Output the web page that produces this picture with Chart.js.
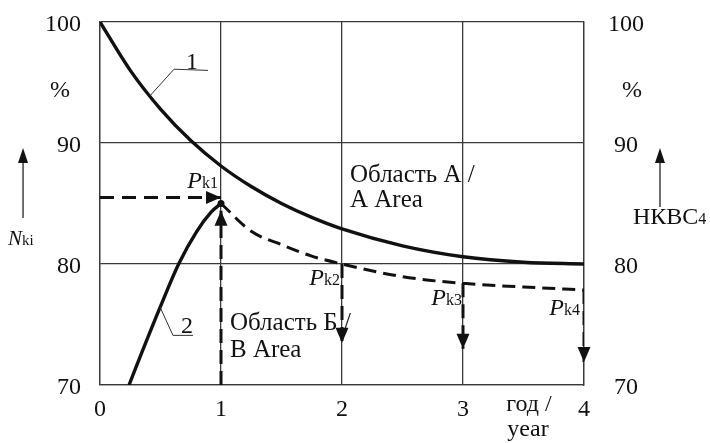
<!DOCTYPE html>
<html>
<head>
<meta charset="utf-8">
<script src="https://cdn.jsdelivr.net/npm/chart.js@4/dist/chart.umd.min.js"></script>
<style>
  html, body { margin: 0; padding: 0; background: #fff; }
  #wrap { width: 710px; height: 443px; }
</style>
</head>
<body>
<div id="wrap"><canvas id="chart" width="710" height="443"></canvas></div>
<script>
// axis ranges
const yearTicks = [0, 1, 2, 3, 4];
const percentTicks = [70, 80, 90, 100];

// curve 1 - upper boundary
const curve1Years  = [0, 0.25, 0.5, 0.75, 1, 1.25, 1.5, 1.75, 2, 2.5, 3, 3.5, 4];
const curve1Values = [100, 96.0, 92.8, 90.2, 88.1, 86.4, 85.0, 83.85, 82.9, 81.5, 80.6, 80.15, 80.0];

// curve 2 - growth up to Pk1
const curve2Years  = [0.24, 0.35, 0.5, 0.65, 0.8, 0.92, 1.0];
const curve2Values = [70, 72.8, 76.5, 80.0, 82.7, 84.3, 85.0];

// dashed curve through Pk1..Pk4
const pkYears  = [1, 1.25, 1.5, 1.75, 2, 2.5, 3, 3.5, 4];
const pkValues = [85.0, 82.7, 81.6, 80.65, 80.0, 78.95, 78.4, 78.1, 77.85];

// dashed arrows
const leadYears   = [0, 1];
const leadValues  = [85.5, 85.5];
const riseValues  = [70, 84.4];
const drop2Values = [80.0, 73.5];
const drop3Values = [78.4, 73.0];
const drop4Values = [77.85, 71.9];

const SERIF = "'Liberation Serif', 'Times New Roman', serif";
const INK = '#111';
const GRID = '#3a3a3a';

const pts = (xs, ys) => ys.map((v, i) => ({ x: xs[i], y: v }));
const vert = (x, ys) => ys.map(v => ({ x: x, y: v }));

// text placed in data units (x = year, y = percent, baseline)
const notes = [
  { parts: [['%', 24]], x: -0.33, y: 93.8, align: 'center' },
  { parts: [['%', 24]], x: 4.397, y: 93.8, align: 'center' },
  { parts: [['1', 24]], x: 0.76, y: 96.12, align: 'center' },
  { parts: [['2', 24]], x: 0.719, y: 74.3, align: 'center' },
  { parts: [['Область А /', 25]], x: 2.066, y: 86.78, align: 'left' },
  { parts: [['A Area', 25]], x: 2.066, y: 84.71, align: 'left' },
  { parts: [['Область Б /', 25]], x: 1.074, y: 74.55, align: 'left' },
  { parts: [['B Area', 25]], x: 1.074, y: 72.31, align: 'left' },
  { parts: [['год /', 24]], x: 3.545, y: 67.85, align: 'center' },
  { parts: [['year', 24]], x: 3.537, y: 65.79, align: 'center' },
  { parts: [['N', 21, true], ['ki', 15]], x: -0.76, y: 81.57, align: 'left' },
  { parts: [['НКВС', 24], ['4', 16]], x: 4.405, y: 83.31, align: 'left' },
  { parts: [['P', 24, true], ['k1', 16]], x: 0.975, y: 86.28, align: 'right' },
  { parts: [['P', 24, true], ['k2', 16]], x: 1.983, y: 78.26, align: 'right' },
  { parts: [['P', 24, true], ['k3', 16]], x: 2.992, y: 76.61, align: 'right' },
  { parts: [['P', 24, true], ['k4', 16]], x: 3.967, y: 75.79, align: 'right' }
];

// thin leader lines to curve numbers
const leaders = [
  [[0.413, 93.9], [0.612, 96.1], [0.893, 96.0]],
  [[0.496, 76.45], [0.603, 74.1], [0.769, 74.1]]
];

// axis arrows beside N_ki and НКВС4
const sideArrows = [
  { x: -0.636, from: 83.8, to: 89.59 },
  { x: 4.628, from: 84.71, to: 89.59 }
];

function arrowHead(ctx, x, y, ang, len, half) {
  ctx.save();
  ctx.translate(x, y);
  ctx.rotate(ang);
  ctx.beginPath();
  ctx.moveTo(0, 0);
  ctx.lineTo(-len, -half);
  ctx.lineTo(-len, half);
  ctx.closePath();
  ctx.fill();
  ctx.restore();
}

const overlay = {
  id: 'overlay',
  afterDatasetsDraw(chart) {
    const { ctx } = chart;
    const sx = chart.scales.x, sy = chart.scales.y;
    ctx.save();
    ctx.fillStyle = INK;
    ctx.strokeStyle = INK;

    // arrowheads at the end of flagged datasets
    chart.data.datasets.forEach((ds, i) => {
      if (!ds.arrow) return;
      const d = chart.getDatasetMeta(i).data;
      const tip = d[d.length - 1], prev = d[d.length - 2];
      const ang = Math.atan2(tip.y - prev.y, tip.x - prev.x);
      arrowHead(ctx, tip.x, tip.y, ang, 15, 6.5);
    });

    // leader lines
    ctx.lineWidth = 1;
    ctx.strokeStyle = '#333';
    leaders.forEach(l => {
      ctx.beginPath();
      l.forEach(([a, b], k) => {
        const px = sx.getPixelForValue(a), py = sy.getPixelForValue(b);
        k ? ctx.lineTo(px, py) : ctx.moveTo(px, py);
      });
      ctx.stroke();
    });

    // side arrows
    ctx.lineWidth = 1.2;
    ctx.strokeStyle = INK;
    sideArrows.forEach(a => {
      const px = sx.getPixelForValue(a.x);
      const y0 = sy.getPixelForValue(a.from), y1 = sy.getPixelForValue(a.to);
      ctx.beginPath();
      ctx.moveTo(px, y0);
      ctx.lineTo(px, y1 + 10);
      ctx.stroke();
      arrowHead(ctx, px, y1, -Math.PI / 2, 15, 5);
    });

    // labels
    ctx.textBaseline = 'alphabetic';
    ctx.textAlign = 'left';
    notes.forEach(n => {
      const widths = n.parts.map(([t, size, it]) => {
        ctx.font = (it ? 'italic ' : '') + size + 'px ' + SERIF;
        return ctx.measureText(t).width;
      });
      const total = widths.reduce((a, b) => a + b, 0);
      let px = sx.getPixelForValue(n.x);
      if (n.align === 'center') px -= total / 2;
      if (n.align === 'right') px -= total;
      const py = sy.getPixelForValue(n.y);
      n.parts.forEach(([t, size, it], k) => {
        ctx.font = (it ? 'italic ' : '') + size + 'px ' + SERIF;
        ctx.fillText(t, px, py);
        px += widths[k];
      });
    });
    ctx.restore();
  }
};

const solid = { borderColor: INK, borderWidth: 3.4, pointRadius: 0, fill: false, cubicInterpolationMode: 'monotone' };
const dashed = { borderColor: INK, borderWidth: 3, pointRadius: 0, fill: false, borderDash: [13, 7], borderCapStyle: 'butt' };

// keep the plot box fixed: no extra room for half-height tick labels
const noPad = s => { s.paddingTop = 0; s.paddingBottom = 0; s.paddingLeft = 0; s.paddingRight = 0; };

new Chart(document.getElementById('chart'), {
  type: 'line',
  data: {
    datasets: [
      Object.assign({ label: '1', data: pts(curve1Years, curve1Values) }, solid),
      Object.assign({ label: '2', data: pts(curve2Years, curve2Values) }, solid),
      Object.assign({}, dashed, {
        label: 'Pk', data: pts(pkYears, pkValues), cubicInterpolationMode: 'monotone',
        pointRadius: pkYears.map((v, i) => i === 0 ? 3.5 : 0), pointBackgroundColor: INK, pointBorderWidth: 0
      }),
      Object.assign({ label: 'lead', data: pts(leadYears, leadValues), arrow: true }, dashed, { borderDash: [14, 8] }),
      Object.assign({ label: 'rise', data: vert(1, riseValues), arrow: true }, dashed, { borderDash: [14, 7] }),
      Object.assign({ label: 'drop2', data: vert(2, drop2Values), arrow: true }, dashed, { borderDash: [14, 7] }),
      Object.assign({ label: 'drop3', data: vert(3, drop3Values), arrow: true }, dashed, { borderDash: [14, 7] }),
      Object.assign({ label: 'drop4', data: vert(4, drop4Values), arrow: true }, dashed, { borderDash: [14, 7] })
    ]
  },
  options: {
    responsive: false,
    animation: false,
    devicePixelRatio: 1,
    layout: { padding: { top: 22, left: 0, right: 0, bottom: 0 } },
    plugins: { legend: { display: false }, tooltip: { enabled: false } },
    scales: {
      x: {
        type: 'linear', position: 'bottom',
        min: yearTicks[0], max: yearTicks[yearTicks.length - 1],
        afterBuildTicks: s => { s.ticks = yearTicks.map(v => ({ value: v })); },
        afterFit: s => { s.height = 58; noPad(s); },
        ticks: { color: INK, font: { family: SERIF, size: 24 }, padding: 10, maxRotation: 0 },
        grid: { color: GRID, lineWidth: 1.3, drawTicks: false },
        border: { color: GRID, width: 1.3 }
      },
      y: {
        type: 'linear', position: 'left',
        min: percentTicks[0], max: percentTicks[percentTicks.length - 1],
        afterBuildTicks: s => { s.ticks = percentTicks.map(v => ({ value: v })); },
        afterFit: s => { s.width = 100; noPad(s); },
        ticks: { color: INK, font: { family: SERIF, size: 24 }, padding: 19, labelOffset: 3 },
        grid: { color: GRID, lineWidth: 1.3, drawTicks: false },
        border: { color: GRID, width: 1.3 }
      },
      y2: {
        type: 'linear', position: 'right',
        min: percentTicks[0], max: percentTicks[percentTicks.length - 1],
        afterBuildTicks: s => { s.ticks = percentTicks.map(v => ({ value: v })); },
        afterFit: s => { s.width = 126; noPad(s); },
        ticks: { color: INK, font: { family: SERIF, size: 24 }, padding: 24, crossAlign: 'center', labelOffset: 3 },
        grid: { display: false, drawTicks: false },
        border: { color: GRID, width: 1.3 }
      }
    }
  },
  plugins: [overlay]
});
</script>
</body>
</html>
